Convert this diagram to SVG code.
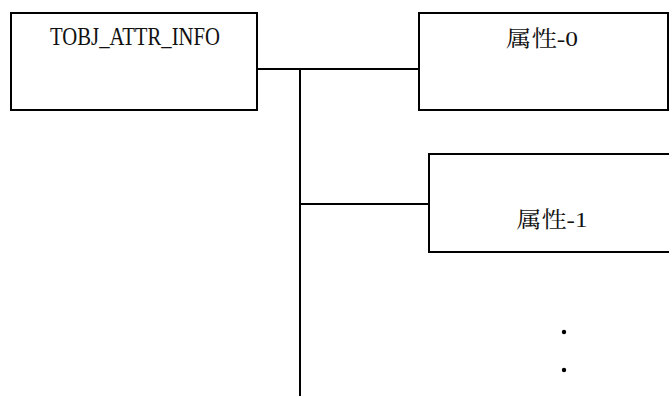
<svg xmlns="http://www.w3.org/2000/svg" width="669" height="396" viewBox="0 0 669 396">
<style>
.box{fill:#fff;stroke:#000;stroke-width:2}
.ln{fill:none;stroke:#000;stroke-width:2}
.t{font-family:"Liberation Serif","Noto Serif CJK SC","Noto Sans CJK SC",serif;fill:#111;text-anchor:middle}
</style>
<rect width="669" height="396" fill="#fff"/>
<g id="connectors">
<path class="ln" d="M257 69H419M300 69V396M300 204H429"/>
</g>
<g id="node-tobj">
<rect class="box" x="11" y="13" width="246" height="97"/>
<text class="t" x="135" y="45" font-size="26" textLength="170" lengthAdjust="spacingAndGlyphs">TOBJ_ATTR_INFO</text>
</g>
<g id="node-attr0">
<rect class="box" x="419" y="13" width="249" height="97"/>
<text class="t" x="542" y="46" font-size="22" textLength="72" lengthAdjust="spacingAndGlyphs">属性-0</text>
</g>
<g id="node-attr1">
<rect class="box" x="429" y="154" width="260" height="98"/>
<text class="t" x="552" y="227" font-size="22" textLength="71" lengthAdjust="spacingAndGlyphs">属性-1</text>
</g>
<g id="dots">
<circle cx="564" cy="332" r="2.2"/>
<circle cx="564" cy="370" r="2.2"/>
</g>
</svg>
